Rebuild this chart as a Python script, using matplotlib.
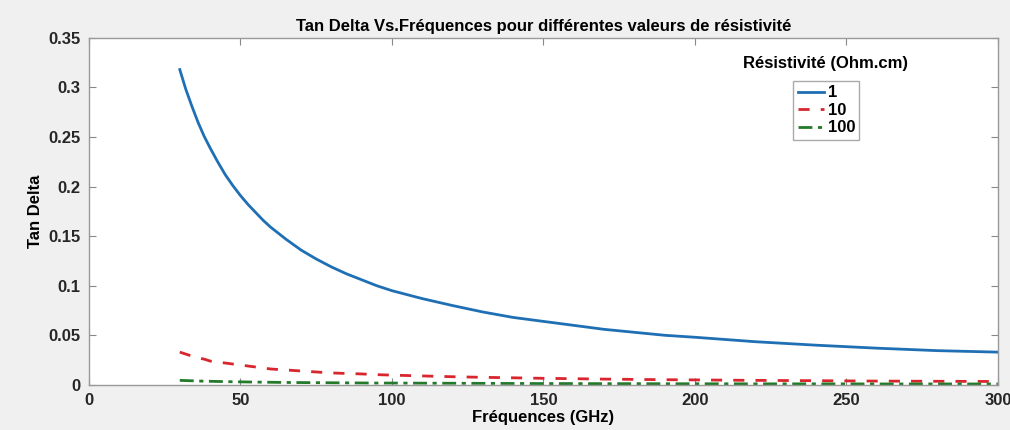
import matplotlib
matplotlib.use("Agg")
from matplotlib import pylab as plt

# values
freq = [30, 32, 34, 36, 38, 40, 42.5, 45, 47.5, 50, 52.5, 55, 57.5, 60, 65, 70, 75,
        80, 85, 90, 95, 100, 110, 120, 130, 140, 150, 160, 170, 180, 190, 200,
        220, 240, 260, 280, 300]
tan_1 = [0.318, 0.298, 0.281, 0.265, 0.251, 0.239, 0.225, 0.212, 0.201, 0.191,
         0.182, 0.174, 0.166, 0.159, 0.147, 0.136, 0.127, 0.119, 0.112, 0.106,
         0.100, 0.095, 0.087, 0.080, 0.0735, 0.068, 0.064, 0.060, 0.056, 0.053,
         0.050, 0.048, 0.0435, 0.040, 0.037, 0.0345, 0.033]
tan_10 = [0.033, 0.031, 0.029, 0.027, 0.026, 0.024, 0.023, 0.022, 0.021, 0.020,
          0.019, 0.018, 0.017, 0.016, 0.015, 0.014, 0.013, 0.012, 0.0115, 0.011,
          0.0103, 0.0098, 0.0090, 0.0082, 0.0076, 0.0071, 0.0066, 0.0062, 0.0058,
          0.0055, 0.0052, 0.0050, 0.0045, 0.0042, 0.0038, 0.0036, 0.0034]
tan_100 = [0.0045, 0.0043, 0.0041, 0.0039, 0.0037, 0.0036, 0.0034, 0.0033, 0.0031,
           0.0030, 0.0029, 0.0028, 0.0027, 0.0026, 0.0024, 0.0023, 0.0022, 0.0021,
           0.0020, 0.0019, 0.0018, 0.0018, 0.0017, 0.0016, 0.0015, 0.0014, 0.0013,
           0.0013, 0.0012, 0.0012, 0.0011, 0.0011, 0.0010, 0.0010, 0.0009, 0.0009,
           0.0009]
labels = ["1", "10", "100"]
xticks = [0, 50, 100, 150, 200, 250, 300]
yticks = [0, 0.05, 0.1, 0.15, 0.2, 0.25, 0.3, 0.35]

plt.rcParams['font.family'] = ['Liberation Sans', 'DejaVu Sans']
plt.rcParams['font.weight'] = 'bold'

fig = plt.figure(figsize=(10.1, 4.3), dpi=100, facecolor='#f0f0f0')
ax = fig.add_axes([0.088, 0.105, 0.900, 0.807])

l1, = ax.plot(freq, tan_1, color='#1f6fb4', lw=2, label=labels[0])
l2, = ax.plot(freq, tan_10, color='#d9262e', lw=2, ls=(0, (4, 4)), label=labels[1])
l3, = ax.plot(freq, tan_100, color='#237a2a', lw=2, ls=(0, (5, 2, 1.5, 2)), label=labels[2])

ax.set_xlim(0, 300)
ax.set_ylim(0, 0.35)
ax.set_xticks(xticks)
ax.set_yticks(yticks)
ax.set_xticklabels([str(v) for v in xticks], fontsize=12, fontweight='bold', color='#262626')
ax.set_yticklabels(["0", "0.05", "0.1", "0.15", "0.2", "0.25", "0.3", "0.35"],
                   fontsize=12, fontweight='bold', color='#262626')
ax.tick_params(direction='in', length=5, color='#888888', top=True, right=True, pad=6)
for sp in ax.spines.values():
    sp.set_color('#999999')
    sp.set_linewidth(1)

ax.set_xlabel("Fréquences (GHz)", fontsize=12, fontweight='bold', labelpad=1)
ax.set_ylabel("Tan Delta", fontsize=12, fontweight='bold', labelpad=4)
ax.set_title("Tan Delta Vs.Fréquences pour différentes valeurs de résistivité",
             fontsize=12, fontweight='bold', pad=5)

leg = ax.legend(handles=[l1, l2, l3], loc='upper left', bbox_to_anchor=(0.775, 0.875),
                fontsize=12, handlelength=1.6, handletextpad=0.2, borderpad=0.25,
                labelspacing=0.15, fancybox=False, framealpha=1, borderaxespad=0)
leg.get_frame().set_edgecolor('#aaaaaa')
leg.get_frame().set_linewidth(1)
for t in leg.get_texts():
    t.set_fontweight('bold')
ax.text(0.81, 0.925, "Résistivité (Ohm.cm)", transform=ax.transAxes, ha='center',
        va='center', fontsize=12, fontweight='bold')

plt.savefig("out.png", dpi=100, facecolor=fig.get_facecolor())
